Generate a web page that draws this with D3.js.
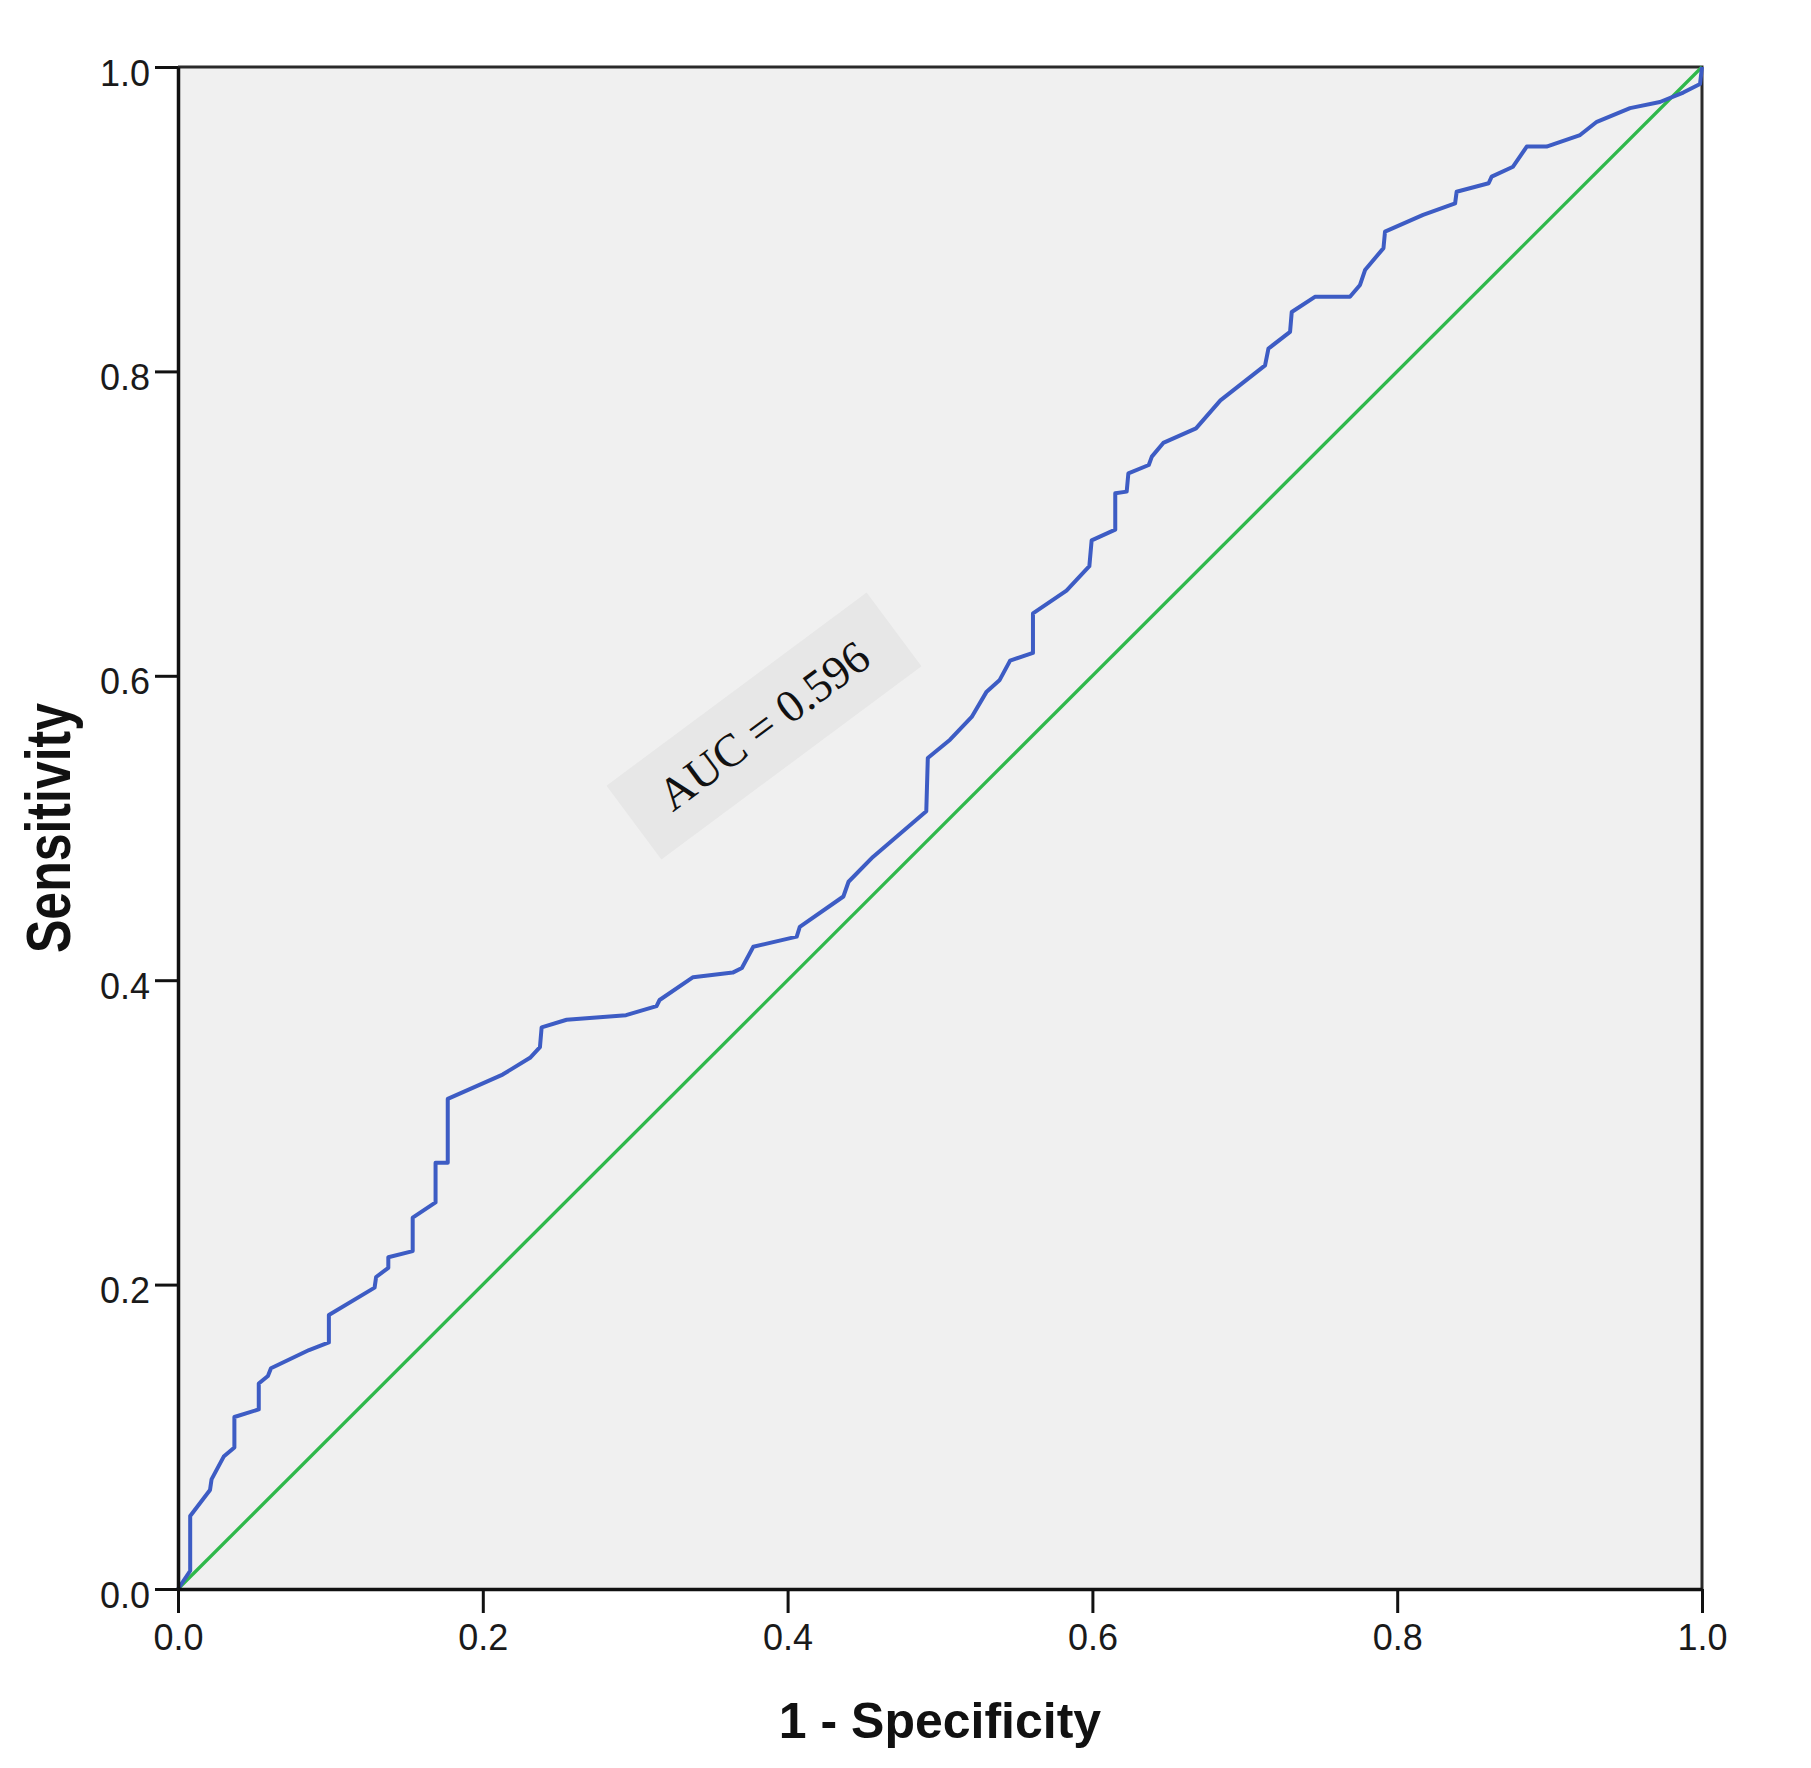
<!DOCTYPE html>
<html>
<head>
<meta charset="utf-8">
<script src="https://cdn.jsdelivr.net/npm/d3@7"></script>
<style>
    html, body { margin: 0; padding: 0; background: #ffffff; }
    svg { display: block; }
    .tick text { font-family: "Liberation Sans", Arial, sans-serif; fill: #1a1a1a; }
</style>
</head>
<body>
<svg id="roc" width="1811" height="1768"></svg>
<script>
"use strict";

// 1 - specificity (false positive rate)
let fpr = [0, 0.008, 0.008, 0.021, 0.022, 0.030, 0.037, 0.037, 0.053, 0.053,
           0.059, 0.061, 0.086, 0.099, 0.099, 0.129, 0.130, 0.138, 0.138, 0.154,
           0.154, 0.169, 0.169, 0.177, 0.177, 0.213, 0.231, 0.2375, 0.2386, 0.255,
           0.294, 0.314, 0.316, 0.338, 0.364, 0.370, 0.3775, 0.406, 0.408, 0.4366,
           0.440, 0.456, 0.491, 0.492, 0.5066, 0.5208, 0.5306, 0.539, 0.546, 0.561,
           0.561, 0.583, 0.598, 0.5995, 0.615, 0.615, 0.6225, 0.6236, 0.637, 0.639,
           0.6465, 0.668, 0.684, 0.7133, 0.7155, 0.7297, 0.7308, 0.746, 0.769, 0.7756,
           0.7789, 0.791, 0.792, 0.817, 0.838, 0.839, 0.860, 0.862, 0.876, 0.885,
           0.898, 0.920, 0.931, 0.9528, 0.9724, 0.9877, 0.9987, 1];

// sensitivity (true positive rate)
let tpr = [0, 0.012, 0.048, 0.065, 0.072, 0.087, 0.093, 0.113, 0.118, 0.135,
           0.140, 0.145, 0.157, 0.162, 0.180, 0.198, 0.205, 0.211, 0.218, 0.222,
           0.244, 0.254, 0.280, 0.280, 0.322, 0.338, 0.349, 0.356, 0.369, 0.374,
           0.377, 0.383, 0.387, 0.402, 0.405, 0.408, 0.422, 0.4286, 0.435, 0.455,
           0.4647, 0.481, 0.511, 0.546, 0.558, 0.573, 0.5896, 0.597, 0.610, 0.615,
           0.641, 0.656, 0.672, 0.689, 0.696, 0.720, 0.721, 0.733, 0.7385, 0.744,
           0.753, 0.7626, 0.781, 0.804, 0.815, 0.826, 0.839, 0.849, 0.849, 0.8568,
           0.8666, 0.881, 0.8918, 0.9028, 0.9104, 0.918, 0.9236, 0.928, 0.9345, 0.9477,
           0.9477, 0.9553, 0.964, 0.973, 0.977, 0.9832, 0.9888, 1];

// reference (chance) line
let chance = [[0, 0], [1, 1]];

let tickValues = [0, 0.2, 0.4, 0.6, 0.8, 1.0];
let xTitle = "1 - Specificity";
let yTitle = "Sensitivity";
let aucLabel = "AUC = 0.596";

/**
 * Draws the ROC chart into the svg
 */
function drawRoc()
{
    let margin = {left: 178, top: 67};
    let width = 1524;
    let height = 1522;

    let svg = d3.select("#roc");
    let g = svg.append("g")
               .attr("transform", "translate(" + margin.left + "," + margin.top + ")");

    let x = d3.scaleLinear()
              .domain([0, 1])
              .range([0, width]);
    let y = d3.scaleLinear()
              .domain([0, 1])
              .range([height, 0]);

    // plot background
    g.append("rect")
     .attr("width", width)
     .attr("height", height)
     .attr("fill", "#f0f0f0");

    // top and right frame
    g.append("path")
     .attr("d", "M0,0H" + width + "V" + height)
     .attr("fill", "none")
     .attr("stroke", "#2a2a2a")
     .attr("stroke-width", 3);

    // AUC note, rotated box behind it
    let note = g.append("g")
                .attr("transform", "translate(" + (764 - margin.left) + "," + (726 - margin.top) + ") rotate(-36.6)");
    note.append("rect")
        .attr("x", -162)
        .attr("y", -46)
        .attr("width", 324)
        .attr("height", 92)
        .attr("fill", "#e7e7e7");
    note.append("text")
        .attr("x", 0)
        .attr("y", 15)
        .attr("text-anchor", "middle")
        .attr("font-family", "'Liberation Serif', 'Times New Roman', serif")
        .attr("font-size", 46)
        .attr("fill", "#111")
        .text(aucLabel);

    let line = d3.line()
                 .x((d) => { return x(d[0]); })
                 .y((d) => { return y(d[1]); });

    g.append("path")
     .datum(chance)
     .attr("d", line)
     .attr("fill", "none")
     .attr("stroke", "#2fb84b")
     .attr("stroke-width", 3.3);

    let roc = fpr.map((v, i) => [v, tpr[i]]);
    g.append("path")
     .datum(roc)
     .attr("d", line)
     .attr("fill", "none")
     .attr("stroke", "#3d5cc4")
     .attr("stroke-width", 4)
     .attr("stroke-linejoin", "round");

    // axes
    let xAxis = g.append("g")
                 .attr("transform", "translate(0," + height + ")")
                 .call(d3.axisBottom(x)
                         .tickValues(tickValues)
                         .tickFormat(d3.format(".1f"))
                         .tickSize(24)
                         .tickSizeOuter(0)
                         .tickPadding(11));
    let yAxis = g.append("g")
                 .call(d3.axisLeft(y)
                         .tickValues(tickValues)
                         .tickFormat(d3.format(".1f"))
                         .tickSize(23)
                         .tickSizeOuter(0)
                         .tickPadding(5));

    [xAxis, yAxis].forEach((a) =>
    {
        a.select(".domain").attr("stroke", "#111").attr("stroke-width", 3.5);
        a.selectAll(".tick line").attr("stroke", "#111").attr("stroke-width", 3);
        a.selectAll(".tick text").attr("font-size", 36);
    });
    yAxis.selectAll(".tick text").attr("dy", "0.5em");

    // axis titles
    svg.append("text")
       .attr("x", margin.left + width / 2)
       .attr("y", 1738)
       .attr("text-anchor", "middle")
       .attr("font-family", "'Liberation Sans', Arial, sans-serif")
       .attr("font-weight", "bold")
       .attr("font-size", 50)
       .attr("fill", "#111")
       .text(xTitle);

    svg.append("text")
       .attr("transform", "translate(70," + (margin.top + height / 2) + ") rotate(-90) scale(1,1.25)")
       .attr("text-anchor", "middle")
       .attr("font-family", "'Liberation Sans', Arial, sans-serif")
       .attr("font-weight", "bold")
       .attr("font-size", 50)
       .attr("fill", "#111")
       .text(yTitle);
}

drawRoc();
</script>
</body>
</html>
